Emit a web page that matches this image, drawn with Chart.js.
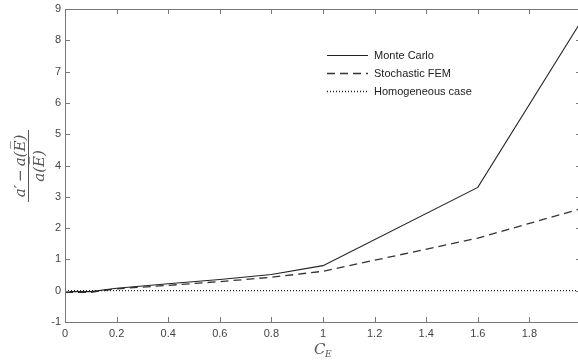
<!DOCTYPE html>
<html>
<head>
<meta charset="utf-8">
<script src="https://cdn.jsdelivr.net/npm/chart.js@4/dist/chart.umd.min.js"></script>
<style>
  html, body { margin: 0; padding: 0; background: #fff; overflow: hidden; }
  #wrap { width: 584px; height: 361px; position: relative; }
</style>
</head>
<body>
<div id="wrap"><canvas id="line-ce-chart"></canvas></div>
<script>
// C_E values and the three series
var ceValues = [0, 0.1, 0.2, 0.4, 0.6, 0.8, 1.0, 1.6, 2.0];
var monteCarlo = [-0.03, -0.03, 0.08, 0.22, 0.36, 0.52, 0.8, 3.3, 8.6];
var stochasticFEM = [-0.05, -0.05, 0.06, 0.17, 0.29, 0.43, 0.62, 1.68, 2.62];
var homogeneous = [0, 0, 0, 0, 0, 0, 0, 0, 0];
var seriesLabels = ["Monte Carlo", "Stochastic FEM", "Homogeneous case"];
var xTicks = [0, 0.2, 0.4, 0.6, 0.8, 1, 1.2, 1.4, 1.6, 1.8, 2];
var yTicks = [-1, 0, 1, 2, 3, 4, 5, 6, 7, 8, 9];

function toPoints(ys) {
    return ceValues.map(function (x, i) { return { x: x, y: ys[i] }; });
}

var axisColor = "#777";

// box, inward ticks, fraction label, C_E label and legend
var decorations = {
    id: 'decorations',
    afterDraw: function (chart) {
        var ctx = chart.ctx, a = chart.chartArea;
        var xs = chart.scales.x, ys = chart.scales.y;
        ctx.save();
        ctx.strokeStyle = axisColor;
        ctx.lineWidth = 1;
        ctx.beginPath();
        ctx.moveTo(a.left + 0.5, a.top + 0.5);
        ctx.lineTo(a.right, a.top + 0.5);
        ctx.moveTo(a.left + 0.5, a.top);
        ctx.lineTo(a.left + 0.5, a.bottom);
        ctx.moveTo(a.left, a.bottom + 0.5);
        ctx.lineTo(a.right, a.bottom + 0.5);
        ctx.moveTo(a.right - 0.5, a.top);
        ctx.lineTo(a.right - 0.5, a.bottom);
        xTicks.forEach(function (v) {
            var px = Math.round(xs.getPixelForValue(v)) + 0.5;
            ctx.moveTo(px, a.bottom); ctx.lineTo(px, a.bottom - 5);
            ctx.moveTo(px, a.top); ctx.lineTo(px, a.top + 5);
        });
        yTicks.forEach(function (v) {
            var py = Math.round(ys.getPixelForValue(v)) + 0.5;
            ctx.moveTo(a.left, py); ctx.lineTo(a.left + 5, py);
            ctx.moveTo(a.right, py); ctx.lineTo(a.right - 5, py);
        });
        ctx.stroke();

        // y axis label: (a' - a(E))/a(E)
        ctx.fillStyle = "#555";
        ctx.strokeStyle = "#555";
        ctx.translate(30, 166);
        ctx.rotate(-Math.PI / 2);
        ctx.font = "italic 15px 'DejaVu Serif', serif";
        ctx.textAlign = "center";
        ctx.textBaseline = "alphabetic";
        ctx.fillText("a\u2032\u2009\u2212\u2009a(E\u0305)", 0, -5);
        ctx.fillText("a(E\u0305)", 0, 14);
        ctx.beginPath();
        ctx.moveTo(-36, -1.5); ctx.lineTo(36, -1.5);
        ctx.stroke();
        ctx.restore();

        // x axis label C_E
        ctx.save();
        ctx.fillStyle = "#555";
        ctx.font = "italic 15px 'DejaVu Serif', serif";
        ctx.textAlign = "left";
        ctx.textBaseline = "alphabetic";
        ctx.fillText("C", 314, 354);
        ctx.font = "italic 9px 'DejaVu Serif', serif";
        ctx.fillText("E", 325, 357);
        ctx.restore();

        // legend
        ctx.save();
        ctx.font = "11px 'Liberation Sans', Arial, sans-serif";
        ctx.textBaseline = "middle";
        chart.data.datasets.forEach(function (ds, i) {
            var y = 55.5 + i * 18;
            ctx.strokeStyle = ds.borderColor;
            ctx.lineWidth = ds.borderWidth;
            ctx.setLineDash(ds.borderDash || []);
            ctx.beginPath();
            ctx.moveTo(327, y); ctx.lineTo(368, y);
            ctx.stroke();
            ctx.setLineDash([]);
            ctx.fillStyle = "#222";
            ctx.fillText(ds.label, 374, y);
        });
        ctx.restore();
    }
};

new Chart(document.getElementById("line-ce-chart"), {
    type: 'line',
    data: {
        datasets: [{
            label: seriesLabels[0],
            data: toPoints(monteCarlo),
            borderColor: "#222",
            borderWidth: 1.1,
            pointRadius: 0,
            fill: false,
            tension: 0
        }, {
            label: seriesLabels[1],
            data: toPoints(stochasticFEM),
            borderColor: "#333",
            borderWidth: 1.3,
            borderDash: [8, 5],
            pointRadius: 0,
            fill: false,
            tension: 0
        }, {
            label: seriesLabels[2],
            data: toPoints(homogeneous),
            borderColor: "#222",
            borderWidth: 1.3,
            borderDash: [1, 2],
            pointRadius: 0,
            fill: false,
            tension: 0
        }]
    },
    options: {
        responsive: true,
        maintainAspectRatio: false,
        animation: false,
        layout: { padding: { top: 9, right: 3, left: 0, bottom: 0 } },
        plugins: {
            legend: { display: false },
            tooltip: { enabled: false }
        },
        scales: {
            x: {
                type: 'linear',
                min: 0,
                max: 2,
                grid: { display: false, drawTicks: false },
                border: { display: false },
                afterBuildTicks: function (s) { s.ticks = xTicks.map(function (v) { return { value: v }; }); },
                afterFit: function (s) { s.height = 39; s.paddingLeft = 0; s.paddingRight = 0; },
                ticks: {
                    color: "#444",
                    padding: 5,
                    maxRotation: 0,
                    autoSkip: false,
                    callback: function (v) { return String(Math.round(v * 10) / 10); },
                    font: { family: "'Liberation Sans', Arial, sans-serif", size: 11 }
                }
            },
            y: {
                min: -1,
                max: 9,
                grid: { display: false, drawTicks: false },
                border: { display: false },
                afterBuildTicks: function (s) { s.ticks = yTicks.map(function (v) { return { value: v }; }); },
                afterFit: function (s) { s.width = 65; s.paddingTop = 0; s.paddingBottom = 0; },
                ticks: {
                    color: "#444",
                    padding: 4,
                    autoSkip: false,
                    font: { family: "'Liberation Sans', Arial, sans-serif", size: 11 }
                }
            }
        }
    },
    plugins: [decorations]
});
</script>
</body>
</html>
